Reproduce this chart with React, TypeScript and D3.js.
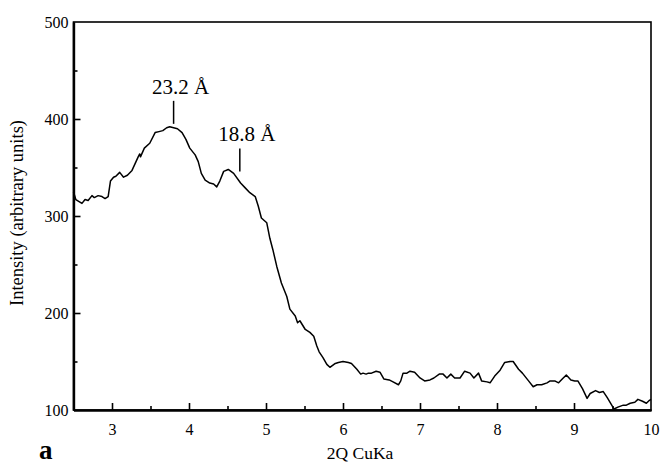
import React, { useEffect, useRef } from 'react';
import * as d3 from 'd3';

// 2-theta positions
const twoTheta = [
  2.5, 2.53, 2.61, 2.65, 2.69, 2.74, 2.77, 2.82, 2.87, 2.91, 2.95, 2.98, 3.02, 3.05, 3.1, 3.15, 3.2, 3.26, 3.3, 3.34,
  3.36, 3.37, 3.42, 3.49, 3.56, 3.61, 3.66, 3.71, 3.75, 3.8, 3.85, 3.91, 3.96, 4.01, 4.08, 4.12, 4.16, 4.21, 4.27, 4.32,
  4.36, 4.4, 4.45, 4.51, 4.58, 4.67, 4.73, 4.79, 4.86, 4.9, 4.94, 5.01, 5.05, 5.09, 5.14, 5.2, 5.27, 5.31, 5.38, 5.41,
  5.44, 5.51, 5.57, 5.62, 5.66, 5.69, 5.74, 5.79, 5.83, 5.9, 5.94, 6.0, 6.07, 6.11, 6.18, 6.23, 6.26, 6.3, 6.33, 6.37,
  6.43, 6.48, 6.53, 6.6, 6.65, 6.72, 6.75, 6.78, 6.83, 6.87, 6.93, 7.0, 7.06, 7.13, 7.18, 7.25, 7.3, 7.35, 7.4, 7.45,
  7.52, 7.58, 7.65, 7.7, 7.76, 7.8, 7.87, 7.91, 7.97, 8.04, 8.1, 8.17, 8.21, 8.28, 8.33, 8.41, 8.47, 8.52, 8.58, 8.65,
  8.69, 8.75, 8.8, 8.86, 8.9, 8.96, 9.01, 9.05, 9.11, 9.17, 9.21, 9.28, 9.33, 9.38, 9.43, 9.49, 9.52, 9.57, 9.64, 9.68,
  9.73, 9.79, 9.83, 9.89, 9.94, 9.98, 10.0,
];

const intensity = [
  325, 317, 313, 317, 316, 321, 319, 321, 320, 318, 320, 336, 340, 341, 345, 340, 342, 347, 354, 361,
  364, 361, 370, 375, 386, 387, 388, 391, 392, 391, 390, 386, 379, 370, 363, 356, 344, 337, 334, 333,
  330, 336, 346, 348, 344, 334, 329, 324, 320, 310, 298, 293, 277, 265, 248, 231, 217, 204, 197, 190,
  192, 183, 180, 176, 166, 160, 154, 147, 144, 148, 149, 150, 149, 148, 142, 137, 138, 137, 138, 138,
  140, 139, 132, 131, 129, 126, 130, 138, 138, 140, 139, 133, 130, 131, 133, 137, 137, 133, 137, 133,
  133, 140, 138, 133, 138, 130, 129, 128, 135, 141, 149, 150, 150, 142, 138, 130, 124, 126, 126, 128,
  130, 130, 128, 133, 136, 131, 130, 130, 122, 112, 117, 120, 118, 119, 113, 105, 101, 103, 105, 105,
  107, 108, 111, 109, 107, 110, 111,
];

const xMajorTicks = [3, 4, 5, 6, 7, 8, 9, 10];
const xMinorTicks = [3.5, 4.5, 5.5, 6.5, 7.5, 8.5, 9.5];
const yMajorTicks = [100, 200, 300, 400, 500];
const yMinorTicks = [150, 250, 350, 450];

const peakLabels = ['23.2 Å', '18.8 Å'];
const peakPositions = [3.8, 4.66];
const peakHeights = [395, 346];

export default function App() {
  const ref = useRef<SVGSVGElement>(null);

  useEffect(() => {
    const width = 662, height = 464;
    const margin = { top: 22, right: 11, bottom: 54, left: 73.5 };
    const w = width - margin.left - margin.right;
    const h = height - margin.top - margin.bottom;
    const font = "'Liberation Serif', 'Times New Roman', serif";

    const svg = d3.select(ref.current);
    svg.selectAll('*').remove();

    const x = d3.scaleLinear().domain([2.5, 10]).range([0, w]);
    const y = d3.scaleLinear().domain([100, 500]).range([h, 0]);

    const g = svg.append('g').attr('transform', `translate(${margin.left},${margin.top})`);

    // frame
    g.append('rect')
      .attr('width', w).attr('height', h)
      .attr('fill', 'none').attr('stroke', '#000').attr('stroke-width', 1.6);

    // bottom axis: major + minor ticks pointing inward
    const xMajor = g.append('g').attr('transform', `translate(0,${h})`)
      .call(d3.axisBottom(x).tickValues(xMajorTicks).tickSizeInner(-7).tickSizeOuter(0).tickPadding(14).tickFormat(d3.format('d')));
    const xMinor = g.append('g').attr('transform', `translate(0,${h})`)
      .call(d3.axisBottom(x).tickValues(xMinorTicks).tickSizeInner(-4).tickSizeOuter(0).tickFormat(() => ''));

    const yMajor = g.append('g')
      .call(d3.axisLeft(y).tickValues(yMajorTicks).tickSizeInner(-7).tickSizeOuter(0).tickPadding(5).tickFormat(d3.format('d')));
    const yMinor = g.append('g')
      .call(d3.axisLeft(y).tickValues(yMinorTicks).tickSizeInner(-4).tickSizeOuter(0).tickFormat(() => ''));

    [xMajor, xMinor, yMajor, yMinor].forEach(a => {
      a.attr('font-family', null).attr('font-size', null);
      a.select('.domain').attr('stroke-width', 2.2);
      a.selectAll('.tick line').attr('stroke-width', 1.6);
      a.selectAll('text').style('font-family', font).style('font-size', '16px').attr('fill', '#000');
    });
    // no tick marks at the corners
    yMajor.selectAll('.tick').filter((d: any) => d === 100 || d === 500).select('line').remove();
    xMajor.selectAll('.tick').filter((d: any) => d === 10).select('line').remove();

    // trace
    const pts = twoTheta.map((t, i) => [t, intensity[i]] as [number, number]);
    const line = d3.line<[number, number]>().x(d => x(d[0])).y(d => y(d[1]));
    g.append('path')
      .attr('d', line(pts))
      .attr('fill', 'none')
      .attr('stroke', '#000')
      .attr('stroke-width', 1.5)
      .attr('stroke-linejoin', 'round');

    // peak annotations
    peakLabels.forEach((lab, i) => {
      const px = x(peakPositions[i]);
      const py = y(peakHeights[i]);
      g.append('line')
        .attr('x1', px).attr('x2', px)
        .attr('y1', py).attr('y2', py - 23)
        .attr('stroke', '#000').attr('stroke-width', 1.5);
      g.append('text')
        .attr('x', px + 7).attr('y', py - 30)
        .attr('text-anchor', 'middle')
        .style('font-family', font).style('font-size', '21px')
        .text(lab);
    });

    // axis titles
    svg.append('text')
      .attr('x', 360).attr('y', 459)
      .attr('text-anchor', 'middle')
      .style('font-family', font).style('font-size', '17.5px')
      .text('2Q CuKa');

    svg.append('text')
      .attr('x', 39).attr('y', 459)
      .style('font-family', font).style('font-size', '27px').style('font-weight', 'bold')
      .text('a');

    svg.append('text')
      .attr('transform', `translate(23,${margin.top + h / 2 - 3}) rotate(-90)`)
      .attr('text-anchor', 'middle')
      .style('font-family', font).style('font-size', '18.5px')
      .text('Intensity (arbitrary units)');
  }, []);

  return (
    <svg
      ref={ref}
      width={662}
      height={464}
      style={{ position: 'absolute', left: 0, top: 0, background: '#fff' }}
    />
  );
}
